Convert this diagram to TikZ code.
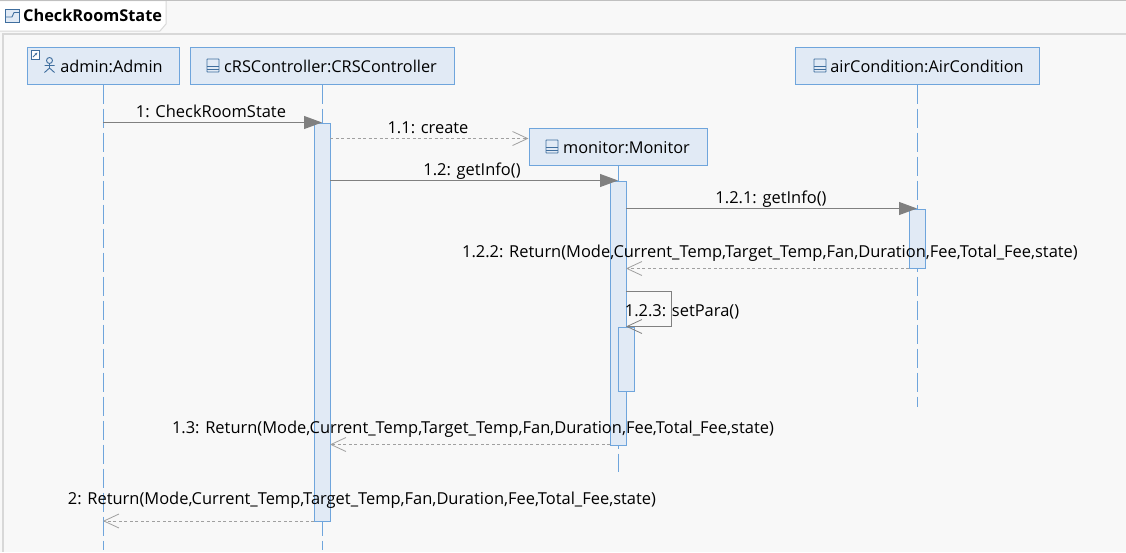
\documentclass[tikz,border=0pt]{standalone}
\usepackage{fontspec}
\setmainfont{Open Sans}
\usetikzlibrary{arrows.meta}
\definecolor{bgcol}{HTML}{F8F8F8}
\definecolor{framecol}{HTML}{D8D8D8}
\definecolor{topcol}{HTML}{C0C0C0}
\definecolor{boxcol}{HTML}{E1EAF5}
\definecolor{linecol}{HTML}{6FA5DC}
\definecolor{msgcol}{HTML}{808080}
\definecolor{backcol}{HTML}{A0A0A0}
\definecolor{iconcol}{HTML}{3F6E9E}
\begin{document}
\begin{tikzpicture}[
    x=1pt, y=-1pt,
    head/.style={rectangle, draw=linecol, fill=boxcol, line width=1pt, minimum height=37pt, inner sep=0pt},
    headtext/.style={font=\fontsize{16.3}{18}\selectfont, inner sep=0pt, anchor=base},
    lifeline/.style={draw=linecol, line width=1pt, dash pattern=on 19pt off 5pt},
    activation/.style={rectangle, draw=linecol, fill=boxcol, line width=1pt, minimum width=16pt, inner sep=0pt},
    call/.style={draw=msgcol, line width=1pt, -{Triangle[length=18pt, width=13pt, fill=msgcol]}},
    back/.style={draw=backcol, line width=1pt, dash pattern=on 3pt off 2.5pt, -{Straight Barb[length=15pt, width=14pt, line width=.8pt]}},
    msg/.style={font=\fontsize{16.45}{18}\selectfont, inner sep=0pt, anchor=base},
    icon/.style={draw=iconcol, line width=.9pt}
]
\useasboundingbox (0,0) rectangle (1126,552);
\fill[bgcol] (0,0) rectangle (1126,552);
\draw[framecol, line width=2pt] (1126,34) -- (2.5,34) -- (2.5,552);
\draw[topcol, line width=1.5pt] (1126,.7) -- (0,.7);
\fill[white] (0,1.5) -- (166,1.5) -- (166,24) -- (160,31) -- (0,31) -- cycle;
\draw[framecol, line width=1pt] (166,1) -- (166,24) -- (160,31) -- (0,31);
\node[headtext, font=\fontsize{16.3}{18}\selectfont\bfseries, anchor=base west] (title) at (23,21.5) {CheckRoomState};
\draw[iconcol, line width=.9pt, fill=boxcol] (5.5,9.5) rectangle (19,22.5);
\draw[iconcol, line width=.9pt] (5.5,17) -- (12,17) -- (14,12.5) -- (19,12.5);

\node[head, minimum width=152pt] (admin) at (103,65.5) {};
\node[head, minimum width=264pt] (controller) at (322,65.5) {};
\node[head, minimum width=178pt] (monitor) at (618,146.5) {};
\node[head, minimum width=244pt] (aircond) at (917,65.5) {};
\node[headtext] (admintext) at (111.5,72) {admin:Admin};
\node[headtext] (controllertext) at (330.5,72) {cRSController:CRSController};
\node[headtext] (monitortext) at (626.5,153) {monitor:Monitor};
\node[headtext] (aircondtext) at (927,72) {airCondition:AirCondition};

\coordinate (adminend) at (103,550);
\coordinate (controllerend) at (322,550);
\coordinate (monitorend) at (618,472);
\coordinate (aircondend) at (917,407);
\draw[lifeline] (admin.south) -- (adminend);
\draw[lifeline] (controller.south) -- (controllerend);
\draw[lifeline] (monitor.south) -- (monitorend);
\draw[lifeline] (aircond.south) -- (aircondend);

\node[activation, minimum height=398pt] (actcontroller) at (322,322) {};
\node[activation, minimum height=264pt] (actmonitor) at (618,313) {};
\node[activation, minimum height=59pt] (actaircond) at (917,238.5) {};
\node[activation, minimum height=64pt] (actself) at (626.5,359) {};

% admin icon
\draw[icon, fill=white] (31,50.5) rectangle (39.5,59);
\draw[iconcol, line width=.8pt, -{Stealth[length=3pt]}] (33,57) -- (37.5,52.5);
\draw[icon] (49.5,60.5) circle (3);
\draw[icon] (49.5,63.5) -- (49.5,68) (44.5,65.5) -- (54.5,65.5) (44.5,72.5) -- (49.5,68) -- (54.5,72.5);
% class icons
\foreach \ix/\iy in {207/59, 546/140, 814/59} {
    \draw[icon, rounded corners=.5pt] (\ix,\iy) rectangle +(12,13);
    \draw[icon] (\ix,\iy+7) -- +(12,0) (\ix,\iy+10) -- +(12,0);
}

\coordinate (m1s) at (103,122.5);
\coordinate (m1e) at (322,122.5);
\coordinate (m2s) at (330,138.5);
\coordinate (m3s) at (330,180.5);
\coordinate (m3e) at (618,180.5);
\coordinate (m4s) at (626,208.5);
\coordinate (m4e) at (917,208.5);
\coordinate (m5s) at (909,268.5);
\coordinate (m5e) at (626,268.5);
\coordinate (m6s) at (626,291.5);
\coordinate (m6e) at (626,326.5);
\coordinate (m7s) at (610,444.5);
\coordinate (m7e) at (330,444.5);
\coordinate (m8s) at (314,521);
\coordinate (m8e) at (103,521);

\draw[call] (m1s) -- (m1e);
\draw[back] (m2s) -- (monitor.west |- m2s);
\draw[call] (m3s) -- (m3e);
\draw[call] (m4s) -- (m4e);
\draw[back] (m5s) -- (m5e);
\draw[draw=msgcol, line width=1pt, -{Straight Barb[length=15pt, width=14pt, line width=.8pt]}] (m6s) -- (671.5,291.5) -- (671.5,326.5) -- (m6e);
\draw[back] (m7s) -- (m7e);
\draw[back] (m8s) -- (m8e);

\node[msg] (l1) at (211,117) {1: CheckRoomState};
\node[msg] (l2) at (428,133) {1.1: create};
\node[msg] (l3) at (472,175) {1.2: getInfo()};
\node[msg] (l4) at (771,203) {1.2.1: getInfo()};
\node[msg] (l5) at (770,257) {1.2.2: Return(Mode,Current\_Temp,Target\_Temp,Fan,Duration,Fee,Total\_Fee,state)};
\node[msg] (l6) at (682,316) {1.2.3: setPara()};
\node[msg] (l7) at (473,433) {1.3: Return(Mode,Current\_Temp,Target\_Temp,Fan,Duration,Fee,Total\_Fee,state)};
\node[msg] (l8) at (362,504) {2: Return(Mode,Current\_Temp,Target\_Temp,Fan,Duration,Fee,Total\_Fee,state)};
\end{tikzpicture}
\end{document}
